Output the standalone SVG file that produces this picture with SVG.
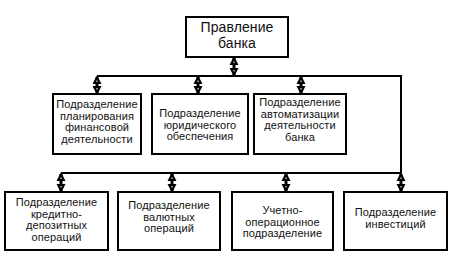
<svg xmlns="http://www.w3.org/2000/svg" width="451" height="255" viewBox="0 0 451 255">
<style>
.box{fill:#fff;stroke:#000;stroke-width:2}
.ln{fill:none;stroke:#000;stroke-width:2}
.ar{fill:none;stroke:#000;stroke-width:3;marker-start:url(#ah);marker-end:url(#ah)}
text{font-family:"Liberation Sans",Arial,sans-serif;font-size:11px;fill:#111;text-anchor:middle;letter-spacing:0.1px}
.big{font-size:14px}
</style>
<defs>
<marker id="ah" viewBox="0 0 10 10" refX="9.2" refY="5" markerWidth="8" markerHeight="12" markerUnits="userSpaceOnUse" orient="auto-start-reverse">
<path d="M2,1.7 L8.6,5 L2,8.3 Z" fill="#fff" stroke="#000" stroke-width="2.8" stroke-linejoin="miter"/>
</marker>
</defs>
<rect width="451" height="255" fill="#fff"/>
<g id="connectors">
<path class="ln" d="M97,76 H401 V173"/>
<path class="ln" d="M61,173 H401"/>
<path class="ar" d="M234,58 V75"/>
<path class="ar" d="M97,77 V93"/>
<path class="ar" d="M198,77 V93"/>
<path class="ar" d="M301,77 V93"/>
<path class="ar" d="M61,174 V191"/>
<path class="ar" d="M172,174 V191"/>
<path class="ar" d="M286,174 V191"/>
<path class="ar" d="M401,174 V191"/>
</g>
<g id="n0">
<rect class="box" x="186" y="17" width="102" height="40"/>
<text class="big" x="237" y="32">Правление</text>
<text class="big" x="237" y="48">банка</text>
</g>
<g id="n1">
<rect class="box" x="53" y="94" width="88" height="60"/>
<text x="97" y="108">Подразделение</text>
<text x="97" y="119.5">планирования</text>
<text x="97" y="131">финансовой</text>
<text x="97" y="142.5">деятельности</text>
</g>
<g id="n2">
<rect class="box" x="152" y="94" width="96" height="60"/>
<text x="200" y="117">Подразделение</text>
<text x="200" y="128.5">юридического</text>
<text x="200" y="140">обеспечения</text>
</g>
<g id="n3">
<rect class="box" x="254" y="94" width="92" height="60"/>
<text x="300" y="106">Подразделение</text>
<text x="300" y="117.5">автоматизации</text>
<text x="300" y="129">деятельности</text>
<text x="300" y="140.5">банка</text>
</g>
<g id="n4">
<rect class="box" x="5" y="192" width="103" height="58"/>
<text x="56.5" y="206">Подразделение</text>
<text x="56.5" y="217.5">кредитно-</text>
<text x="56.5" y="229">депозитных</text>
<text x="56.5" y="240.5">операций</text>
</g>
<g id="n5">
<rect class="box" x="118" y="192" width="102" height="58"/>
<text x="169" y="209">Подразделение</text>
<text x="169" y="220.5">валютных</text>
<text x="169" y="232">операций</text>
</g>
<g id="n6">
<rect class="box" x="232" y="192" width="101" height="58"/>
<text x="282.5" y="214">Учетно-</text>
<text x="282.5" y="225.5">операционное</text>
<text x="282.5" y="237">подразделение</text>
</g>
<g id="n7">
<rect class="box" x="344" y="192" width="103" height="58"/>
<text x="395.5" y="216">Подразделение</text>
<text x="395.5" y="227.5">инвестиций</text>
</g>
</svg>
